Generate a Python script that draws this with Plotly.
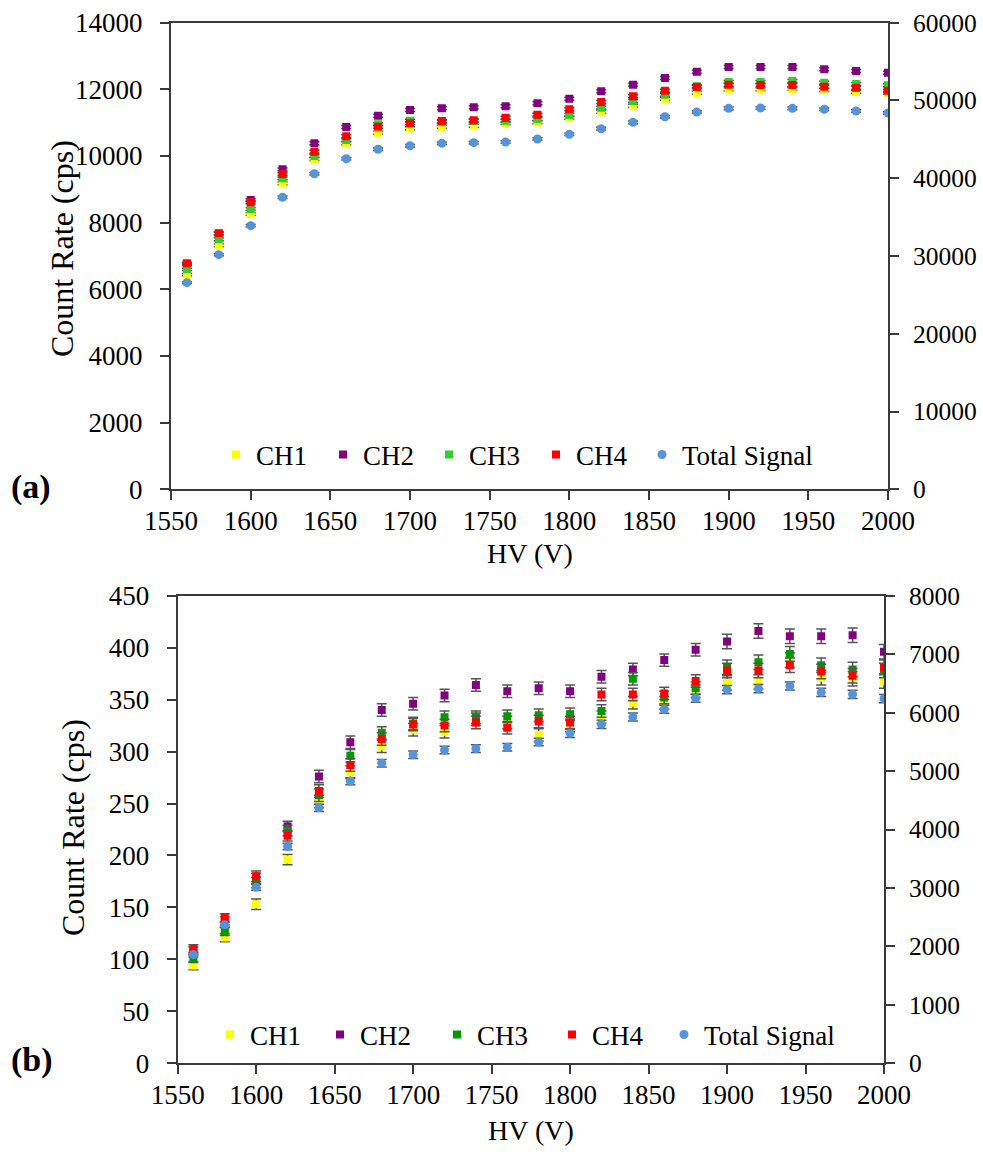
import plotly.graph_objects as go

W, H = 983, 1154

hv = [1560, 1580, 1600, 1620, 1640, 1660, 1680, 1700, 1720, 1740, 1760, 1780,
      1800, 1820, 1840, 1860, 1880, 1900, 1920, 1940, 1960, 1980, 2000]

# ---- panel (a) ----
a_ch1 = [6440, 7320, 8260, 9180, 9910, 10380, 10700, 10830, 10880, 10910, 10980, 11010,
         11150, 11330, 11510, 11720, 11900, 12000, 12000, 12010, 11980, 11930, 11900]
a_ch2 = [6750, 7670, 8680, 9600, 10380, 10870, 11210, 11380, 11430, 11460, 11490, 11580,
         11720, 11940, 12140, 12340, 12530, 12670, 12670, 12670, 12600, 12550, 12500]
a_ch3 = [6600, 7500, 8410, 9330, 10000, 10480, 10950, 11060, 11030, 11050, 11060, 11110,
         11230, 11450, 11650, 11840, 12090, 12220, 12220, 12250, 12200, 12160, 12120]
a_ch4 = [6780, 7680, 8610, 9460, 10130, 10590, 10880, 10980, 11050, 11070, 11150, 11240,
         11400, 11620, 11790, 11960, 12070, 12140, 12130, 12130, 12080, 12050, 11960]
a_tot = [26570, 30170, 33900, 37550, 40580, 42510, 43720, 44180, 44490, 44570, 44660, 45050,
         45650, 46370, 47190, 47910, 48520, 48990, 49030, 48990, 48870, 48650, 48390]
a_err = [35, 40, 40, 40, 45, 45, 45, 45, 45, 45, 45, 45,
         45, 45, 45, 45, 45, 45, 45, 45, 45, 45, 45]
a_tot_err = [120, 130, 140, 150, 150, 160, 160, 160, 160, 160, 160, 160,
             170, 170, 170, 170, 170, 170, 170, 170, 170, 170, 170]

# ---- panel (b) ----
b_ch1 = [94, 121, 153, 196, 252, 280, 305, 321, 319, 331, 328, 316,
         325, 333, 347, 347, 358, 366, 367, 388, 371, 370, 368]
b_ch2 = [108, 137, 178, 228, 276, 309, 340, 346, 354, 364, 358, 361,
         358, 372, 379, 388, 398, 406, 416, 411, 411, 412, 396]
b_ch3 = [101, 127, 174, 224, 258, 296, 318, 327, 333, 333, 334, 335,
         336, 339, 370, 352, 361, 381, 386, 394, 383, 379, 378]
b_ch4 = [110, 140, 180, 219, 262, 287, 312, 326, 325, 328, 323, 329,
         328, 355, 355, 356, 368, 378, 378, 383, 377, 373, 381]
b_tot = [1860, 2370, 3010, 3710, 4370, 4825, 5133, 5280, 5360, 5383, 5406, 5497,
         5646, 5800, 5925, 6057, 6245, 6392, 6409, 6455, 6347, 6313, 6238]
b_err = [4, 4, 5, 5, 6, 6, 6, 6, 6, 6, 6, 6,
         6, 6, 6, 6, 6, 7, 7, 7, 7, 7, 7]
b_tot_err = [40, 45, 50, 55, 60, 60, 65, 65, 65, 65, 65, 65,
             70, 70, 70, 70, 70, 70, 70, 70, 70, 70, 70]

names = ["CH1", "CH2", "CH3", "CH4", "Total Signal"]
colors_a = ["#FFFF00", "#800080", "#33CC33", "#FF0000", "#5594DB"]
colors_b = ["#FFFF00", "#800080", "#009900", "#FF0000", "#5594DB"]

# legend marker centres (px)
leg_a_x = [240, 347, 453, 560, 666]
leg_b_x = [234, 344, 461, 576, 688]
leg_a_y = 455
leg_b_y = 1035

FONT = "Liberation Serif"
AX = "#3a3a3a"

fig = go.Figure()

def add_panel(chs, tot, err, tot_err, colors, xa, ya_l, ya_r, legs, errcol, errw):
    for i, ys in enumerate(chs):
        fig.add_trace(go.Scatter(
            x=hv, y=ys, mode="markers", name=names[i], legend=legs[i],
            xaxis=xa, yaxis=ya_l,
            marker=dict(symbol="square", size=8, color=colors[i], line=dict(width=0)),
            error_y=dict(type="data", array=err, color=errcol, thickness=1.5, width=errw),
        ))
    fig.add_trace(go.Scatter(
        x=hv, y=tot, mode="markers", name=names[4], legend=legs[4],
        xaxis=xa, yaxis=ya_r,
        marker=dict(symbol="circle", size=9, color=colors[4], line=dict(width=0)),
        error_y=dict(type="data", array=tot_err, color=errcol, thickness=1.5, width=errw),
    ))

legs_a = ["legend", "legend2", "legend3", "legend4", "legend5"]
legs_b = ["legend6", "legend7", "legend8", "legend9", "legend10"]

add_panel([a_ch1, a_ch2, a_ch3, a_ch4], a_tot, a_err, a_tot_err, colors_a,
          "x", "y", "y2", legs_a, "#444444", 5)
add_panel([b_ch1, b_ch2, b_ch3, b_ch4], b_tot, b_err, b_tot_err, colors_b,
          "x2", "y3", "y4", legs_b, "#555555", 5)

def xax(domain, anchor):
    return dict(domain=domain, anchor=anchor, range=[1550, 2000], tick0=1550, dtick=50,
                showline=True, linecolor=AX, linewidth=2, mirror=True,
                ticks="outside", ticklen=9, tickwidth=2, tickcolor=AX, automargin=False,
                showgrid=False, zeroline=False,
                tickfont=dict(family=FONT, size=27, color="black"),
                ticklabelstandoff=-3, tickformat="d")

def yax(domain, anchor, rng, dt, side="left", overlay=None):
    d = dict(anchor=anchor, range=rng, dtick=dt, side=side,
             showline=True, linecolor=AX, linewidth=2, automargin=False,
             ticks="outside", ticklen=9, tickwidth=2, tickcolor=AX,
             showgrid=False, zeroline=False,
             tickfont=dict(family=FONT, size=(27 if side == "left" else 25.5), color="black"),
             ticklabelstandoff=(12 if side == "left" else 9), tickformat="d")
    if overlay:
        d["overlaying"] = overlay
    else:
        d["domain"] = domain
    return d

ya_dom = [1 - 489.3 / H, 1 - 22.7 / H]
yb_dom = [1 - 1063.3 / H, 1 - 595.7 / H]

legfont = dict(family=FONT, size=27, color="black")

layout = dict(
    width=W, height=H, margin=dict(l=0, r=0, t=0, b=0, autoexpand=False),
    paper_bgcolor="white", plot_bgcolor="white",
    xaxis=xax([171 / W, 888 / W], "y"),
    yaxis=yax(ya_dom, "x", [0, 14000], 2000),
    yaxis2=yax(None, "x", [0, 60000], 10000, side="right", overlay="y"),
    xaxis2=xax([177.7 / W, 884 / W], "y3"),
    yaxis3=yax(yb_dom, "x2", [0, 450], 50),
    yaxis4=yax(None, "x2", [0, 8000], 1000, side="right", overlay="y3"),
    showlegend=True,
)

for lg, mx in zip(legs_a, leg_a_x):
    layout[lg] = dict(orientation="h", x=(mx - 24) / W, y=1 - leg_a_y / H,
                      xanchor="left", yanchor="middle", bgcolor="rgba(0,0,0,0)",
                      font=legfont, itemsizing="trace")
for lg, mx in zip(legs_b, leg_b_x):
    layout[lg] = dict(orientation="h", x=(mx - 24) / W, y=1 - leg_b_y / H,
                      xanchor="left", yanchor="middle", bgcolor="rgba(0,0,0,0)",
                      font=legfont, itemsizing="trace")

fig.update_layout(**layout)

ann = []
def txt(t, x, y, size=28, bold=False, angle=0):
    ann.append(dict(text=f"<b>{t}</b>" if bold else t, x=x / W, y=1 - y / H,
                    xref="paper", yref="paper", showarrow=False, textangle=angle,
                    xanchor="center", yanchor="middle",
                    font=dict(family=FONT, size=size, color="black")))

txt("Count Rate (cps)", 62, 248, size=32, angle=-90)
txt("HV (V)", 530, 553)
txt("(a)", 31, 487, size=34, bold=True)
txt("Count Rate (cps)", 73, 828, size=32, angle=-90)
txt("HV (V)", 531, 1130)
txt("(b)", 32, 1060, size=34, bold=True)
fig.update_layout(annotations=ann)

fig.write_html("out.html")
